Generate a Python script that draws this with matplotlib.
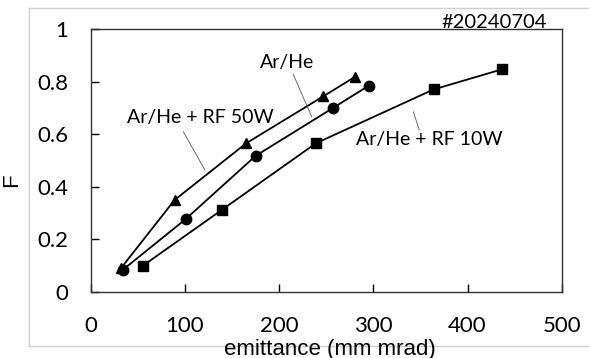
import matplotlib
matplotlib.use("Agg")
import matplotlib.pyplot as plt
from matplotlib.lines import Line2D

# donnees
emit_50w = [32, 89, 165, 247, 281]
f_50w = [0.09, 0.35, 0.566, 0.745, 0.82]

emit_arhe = [34, 101, 175, 257, 295]
f_arhe = [0.084, 0.278, 0.518, 0.70, 0.785]

emit_10w = [55, 139, 239, 364, 437]
f_10w = [0.099, 0.312, 0.566, 0.771, 0.848]

x_ticks = [0, 100, 200, 300, 400, 500]
y_ticks = [0, 0.2, 0.4, 0.6, 0.8, 1]
y_tick_labels = ["0", "0.2", "0.4", "0.6", "0.8", "1"]

police = "Lato"

fig = plt.figure(figsize=(5.89, 3.58), dpi=100)

# cadre gris exterieur
for xs, ys in [([0.049, 1.0], [0.9777, 0.9777]),
               ([0.049, 1.0], [0.0335, 0.0335]),
               ([0.049, 0.049], [0.0335, 0.9777])]:
    fig.add_artist(Line2D(xs, ys, transform=fig.transFigure, color="#d0d0d0", lw=1.0))

ax = fig.add_axes([0.154, 0.1844, 0.7997, 0.7338])

style = dict(color="black", lw=1.3, markersize=7.5)
ax.plot(emit_50w, f_50w, marker="^", **style)
ax.plot(emit_arhe, f_arhe, marker="o", **style)
ax.plot(emit_10w, f_10w, marker="s", **style)

ax.set_xlim(0, 500)
ax.set_ylim(0, 1)
ax.set_xticks(x_ticks)
ax.set_yticks(y_ticks)
ax.set_yticklabels(y_tick_labels)
ax.tick_params(direction="in", length=6, width=1, colors="black", labelsize=16)
ax.tick_params(axis="y", pad=16)
ax.tick_params(axis="x", pad=17.5)
for lab in ax.get_xticklabels() + ax.get_yticklabels():
    lab.set_fontfamily(police)
for s in ax.spines.values():
    s.set_color("#333333")
    s.set_linewidth(1.0)

# etiquettes des courbes
fleche = dict(arrowstyle="-", color="#555555", lw=0.6, shrinkA=0, shrinkB=0)
ax.annotate("Ar/He", xy=(208.4, 0.872), ha="center", va="center",
            fontsize=14, fontfamily=police)
ax.annotate("", xy=(234.6, 0.667), xytext=(214.8, 0.830), arrowprops=fleche)
ax.annotate("Ar/He + RF 50W", xy=(116, 0.666), ha="center", va="center",
            fontsize=14, fontfamily=police)
ax.annotate("", xy=(121.3, 0.464), xytext=(98.3, 0.610), arrowprops=fleche)
ax.annotate("Ar/He + RF 10W", xy=(359, 0.579), ha="center", va="center",
            fontsize=14, fontfamily=police)
ax.annotate("", xy=(348.8, 0.617), xytext=(342.5, 0.686), arrowprops=fleche)

fig.text(0.9287, 0.936, "#20240704", ha="right", va="center", fontsize=14.5, fontfamily=police)
fig.text(330 / 589, 1 - 349 / 358, "emittance (mm mrad)", ha="center", va="center",
         fontsize=16, fontfamily="Liberation Sans")
fig.text(12 / 589, 1 - 180 / 358, "F", ha="center", va="center", rotation=90,
         fontsize=16, fontfamily="Liberation Sans")

fig.savefig("out.png", dpi=100)
